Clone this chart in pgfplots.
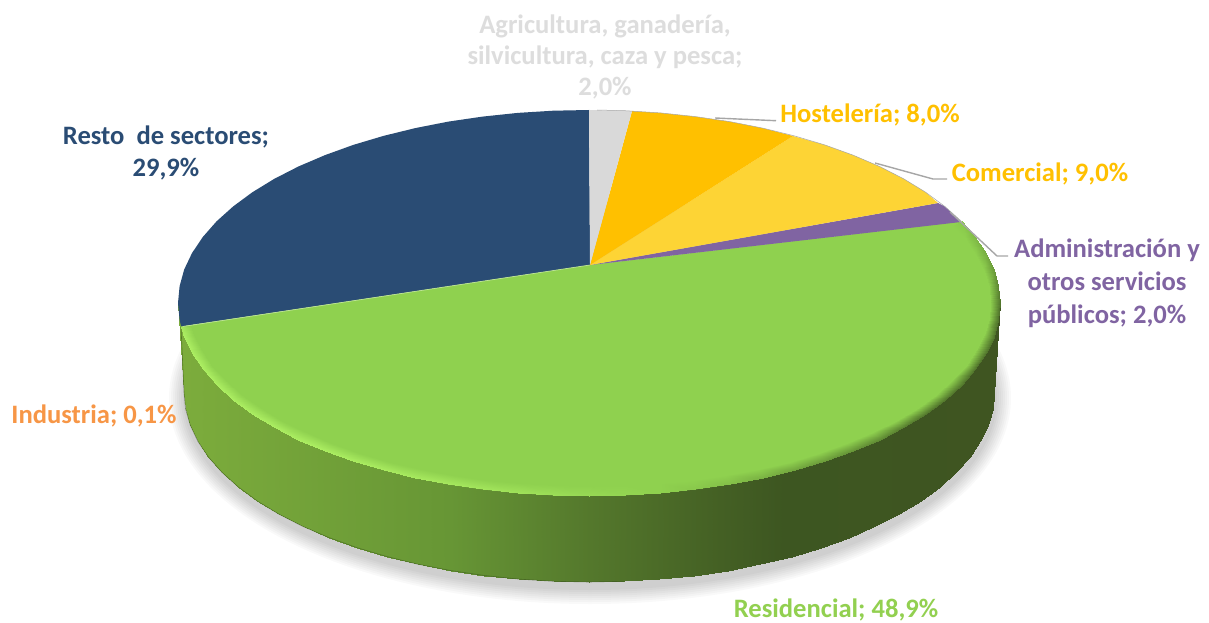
\documentclass[border=0pt]{standalone}
\usepackage{pgfplots}
\pgfplotsset{compat=1.18}
\usepackage{fontspec}
\setmainfont{Carlito}[BoldFont=* Bold]
\definecolor{cblue}{HTML}{2A4C74}
\definecolor{cgrey}{HTML}{D9D9D9}
\definecolor{cgreyt}{HTML}{DDDDDD}
\definecolor{cgold}{HTML}{FFC000}
\definecolor{cyell}{HTML}{FDD435}
\definecolor{cpurp}{HTML}{8064A2}
\definecolor{cgreen}{HTML}{8FD14F}
\definecolor{ctgreen}{HTML}{92D050}
\definecolor{corange}{HTML}{F79646}
\definecolor{cline}{HTML}{A6A6A6}
\definecolor{cedge}{RGB}{58,84,30}
\tikzset{lab/.style={font=\fontsize{26.6}{31}\selectfont\bfseries, align=center, inner sep=0pt}}
\begin{document}
\begin{tikzpicture}
\begin{axis}[
  scale only axis, width=1209pt, height=623pt,
  xmin=0, xmax=1209, ymin=0, ymax=623, y dir=reverse, hide axis, clip=true,
  point meta min=184, point meta max=1284,
  colormap={pie}{rgb255(0pt)=(124,172,60) rgb255(266pt)=(103,150,53) rgb255(406pt)=(84,120,44) rgb255(536pt)=(68,96,36) rgb255(600pt)=(61,86,33) rgb255(816pt)=(63,85,33) rgb255(900pt)=(82,118,44) rgb255(1000pt)=(143,209,79) rgb255(1100pt)=(172,238,98)},
]
\addplot[draw=none, fill=white, forget plot] coordinates {(0,0) (1209,0) (1209,623) (0,623)} -- cycle;

% soft shadow
\foreach \k in {2,4,...,16} {
  \edef\tmp{\noexpand\fill[black, opacity=0.022] (axis cs:590,398) ellipse [x radius={405+\k}, y radius={190+\k}];}
  \tmp
}

% side wall
\addplot[surf, shader=interp, mesh/rows=2, point meta=x]
table {
178 303
179.6 319.8
184.2 336.5
192.0 352.9
202.8 369.0
216.5 384.6
233.1 399.5
252.3 413.7
274.2 427.1
298.4 439.5
324.8 450.8
353.3 461.1
383.5 470.1
415.3 477.9
448.4 484.4
482.6 489.4
517.7 493.1
553.2 495.3
589 496
624.8 495.3
660.3 493.1
695.4 489.4
729.6 484.4
762.7 477.9
794.5 470.1
824.7 461.1
853.2 450.8
879.6 439.5
903.8 427.1
925.7 413.7
944.9 399.5
961.5 384.6
975.2 369.0
986.0 352.9
993.8 336.5
998.4 319.8
1000 303
184 392
185.5 408.6
190.2 425
197.8 441.2
208.4 457
221.9 472.3
238.3 487
257.2 501
278.8 514.1
302.6 526.3
328.7 537.5
356.7 547.6
386.5 556.5
417.8 564.2
450.5 570.5
484.2 575.5
518.7 579.1
553.7 581.3
589 582
624.3 581.3
659.3 579.1
693.8 575.5
727.5 570.5
760.2 564.2
791.5 556.5
821.3 547.6
849.3 537.5
875.4 526.3
899.2 514.1
920.8 501
939.7 487
956.1 472.3
969.6 457
980.2 441.2
987.8 425
992.5 408.6
994 392
};
% dark lower edge of the wall
\addplot[line width=0.6pt, color=cedge, opacity=0.6] coordinates {(181,327) (184,392) (185.5,408.6) (190.2,425) (197.8,441.2) (208.4,457) (221.9,472.3) (238.3,487) (257.2,501) (278.8,514.1) (302.6,526.3) (328.7,537.5) (356.7,547.6) (386.5,556.5) (417.8,564.2) (450.5,570.5) (484.2,575.5) (518.7,579.1) (553.7,581.3) (589,582) (624.3,581.3)};

% blue slice (Resto de sectores 29,9%)
\addplot[fill=cblue, draw=none] coordinates {
(590,265) (589,110) (553.2,110.7) (517.7,112.9) (482.6,116.6) (448.4,121.6) (415.3,128.1) (383.5,135.9) (353.3,144.9) (324.8,155.2) (298.4,166.5) (274.2,178.9) (252.3,192.3) (233.1,206.5) (216.5,221.4) (202.8,237.0) (192.0,253.1) (184.2,269.5) (179.6,286.2) (178,303) (179.6,319.8) (181.1,326.5)
} -- cycle;
% green slice (Residencial 48,9%)
\addplot[fill=cgreen, draw=none] coordinates {
(590,265) (181.1,326.5) (184.2,336.5) (192.0,352.9) (202.8,369.0) (216.5,384.6) (233.1,399.5) (252.3,413.7) (274.2,427.1) (298.4,439.5) (324.8,450.8) (353.3,461.1) (383.5,470.1) (415.3,477.9) (448.4,484.4) (482.6,489.4) (517.7,493.1) (553.2,495.3) (589,496) (624.8,495.3) (660.3,493.1) (695.4,489.4) (729.6,484.4) (762.7,477.9) (794.5,470.1) (824.7,461.1) (853.2,450.8) (879.6,439.5) (903.8,427.1) (925.7,413.7) (944.9,399.5) (961.5,384.6) (975.2,369.0) (986.0,352.9) (993.8,336.5) (998.4,319.8) (1000,303) (998.4,286.2) (993.8,269.5) (986.0,253.1) (975.2,237.0) (961.5,221.4)
} -- cycle;
% bevel along the rim of the green slice
\addplot[surf, shader=interp, mesh/rows=2, point meta={\thisrow{m}*100+1084}]
table {
x y m
181.1 326.5 1.8
184.2 336.5 2
192.0 352.9 2
202.8 369.0 2
216.5 384.6 2
233.1 399.5 2
252.3 413.7 2
274.2 427.1 2
298.4 439.5 2
324.8 450.8 2
353.3 461.1 1.95
383.5 470.1 1.9
415.3 477.9 1.85
448.4 484.4 1.8
482.6 489.4 1.7
517.7 493.1 1.6
553.2 495.3 1.45
589 496 1.3
624.8 495.3 1.15
660.3 493.1 1
695.4 489.4 0.9
729.6 484.4 0.8
762.7 477.9 0.65
794.5 470.1 0.5
824.7 461.1 0.4
853.2 450.8 0.3
879.6 439.5 0.2
903.8 427.1 0.1
925.7 413.7 0
944.9 399.5 0
961.5 384.6 0
975.2 369.0 0
986.0 352.9 0
993.8 336.5 0
998.4 319.8 0
1000 303 0
998.4 286.2 0.2
993.8 269.5 0.4
986.0 253.1 0.6
975.2 237.0 0.75
961.5 221.4 0.9
190.5 325.5 1
194.1 334.8 1
201.7 350.4 1
212.2 365.6 1
225.6 380.3 1
241.7 394.5 1
260.5 408 1
281.8 420.6 1
305.5 432.4 1
331.2 443.2 1
359 452.9 1
388.5 461.5 1
419.5 468.9 1
451.9 475 1
485.2 479.8 1
519.4 483.2 1
554 485.3 1
589 486 1
624 485.3 1
658.6 483.2 1
692.8 479.8 1
726.1 475 1
758.5 468.9 1
789.5 461.5 1
819 452.9 1
846.8 443.2 1
872.5 432.4 1
896.2 420.6 1
917.5 408 1
936.3 394.5 1
952.4 380.3 1
965.8 365.6 1
976.3 350.4 1
983.9 334.8 1
988.5 319 1
990 303 1
988.5 287 1
983.9 271.2 1
976.3 255.6 1
965.8 240.4 1
952.4 225.7 1
};
% purple slice (Administración 2,0%)
\addplot[fill=cpurp, draw=none] coordinates {
(590,265) (961,222) (944.9,206.5) (938,203)
} -- cycle;
% yellow slice (Comercial 9,0%)
\addplot[fill=cyell, draw=none] coordinates {
(590,265) (938,203) (925.7,192.3) (903.8,178.9) (879.6,166.5) (853.2,155.2) (824.7,144.9) (793,136)
} -- cycle;
% gold slice (Hostelería 8,0%)
\addplot[fill=cgold, draw=none] coordinates {
(590,265) (793,136) (762.7,128.1) (729.6,121.6) (695.4,116.6) (660.3,112.9) (632,111.1)
} -- cycle;
% grey slice (Agricultura 2,0%)
\addplot[fill=cgrey, draw=none] coordinates {
(590,265) (632,111.1) (624.8,110.7) (589,110)
} -- cycle;
% light seam, thin rim
\addplot[line width=0.7pt, color=cgreen!60!white] coordinates {(183,326.5) (590,265)};
\addplot[line width=0.5pt, color=cline] coordinates {(597,110) (624.8,110.7) (660.3,112.9) (695.4,116.6) (729.6,121.6) (762.7,128.1) (794.5,135.9) (824.7,144.9) (853.2,155.2) (879.6,166.5) (903.8,178.9) (925.7,192.3) (944.9,206.5) (961.5,221.4)};
% leader lines
\addplot[line width=1.4pt, color=cline] coordinates {(715,118) (776,120.7)};
\addplot[line width=1.4pt, color=cline] coordinates {(875,163) (933,179) (947,179)};
\addplot[line width=1.4pt, color=cline] coordinates {(950,212) (997,256) (1008,256)};

\node[lab, text=cgreyt] at (axis cs:605,57) {Agricultura, ganadería,\\silvicultura, caza y pesca;\\2,0\%};
\node[lab, text=cblue] at (axis cs:166,153) {Resto\ \ de sectores;\\[1pt]29,9\%};
\node[lab, text=cgold] at (axis cs:870,115) {Hostelería; 8,0\%};
\node[lab, text=cgold] at (axis cs:1040,174) {Comercial; 9,0\%};
\node[lab, text=cpurp] at (axis cs:1107,283) {Administración y\\[2pt]otros servicios\\[2pt]públicos; 2,0\%};
\node[lab, text=corange] at (axis cs:94,416) {Industria; 0,1\%};
\node[lab, text=ctgreen] at (axis cs:836,610) {Residencial; 48,9\%};
\end{axis}
\end{tikzpicture}
\end{document}
